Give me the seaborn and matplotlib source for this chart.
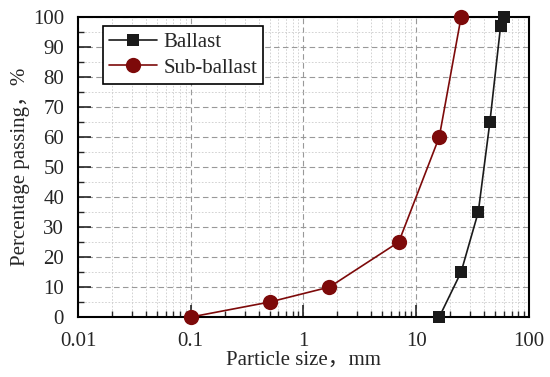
import pandas as pd
import seaborn as sns
import matplotlib.pyplot as plt
from matplotlib.ticker import LogLocator, MultipleLocator, FixedLocator, FixedFormatter

# grading curves
ballast_size = [16, 25, 35.5, 45, 56, 60]
ballast_pass = [0, 15, 35, 65, 97, 100]
sub_size = [0.1, 0.5, 1.7, 7, 16, 25]
sub_pass = [0, 5, 10, 25, 60, 100]
x_ticks = [0.01, 0.1, 1, 10, 100]
x_tick_labels = ['0.01', '0.1', '1', '10', '100']

df = pd.concat([
    pd.DataFrame({'size': ballast_size, 'passing': ballast_pass, 'Material': 'Ballast'}),
    pd.DataFrame({'size': sub_size, 'passing': sub_pass, 'Material': 'Sub-ballast'}),
])

sns.set_style('white')
plt.rcParams['font.family'] = ['Liberation Serif', 'Noto Sans CJK SC']

fig = plt.figure(figsize=(5.5, 3.77), dpi=100)
ax = fig.add_axes([0.1418, 0.159, 0.82, 0.796])

sns.lineplot(data=df, x='size', y='passing', hue='Material', style='Material',
             palette={'Ballast': '#1a1a1a', 'Sub-ballast': '#7d0a0a'},
             markers={'Ballast': 's', 'Sub-ballast': 'o'},
             dashes=False, sort=False, linewidth=1.2, markeredgewidth=0,
             ax=ax, zorder=5, clip_on=False)
for line in ax.get_lines():
    if line.get_marker() == 's':
        line.set_markersize(9)
    else:
        line.set_markersize(11)

ax.set_xscale('log')
ax.set_xlim(0.01, 100)
ax.set_ylim(0, 100)
ax.xaxis.set_major_locator(FixedLocator(x_ticks))
ax.xaxis.set_major_formatter(FixedFormatter(x_tick_labels))
ax.xaxis.set_minor_locator(LogLocator(base=10, subs=range(2, 10)))
ax.yaxis.set_major_locator(MultipleLocator(10))
ax.yaxis.set_minor_locator(MultipleLocator(5))

ax.grid(True, which='major', linestyle=(0, (5, 3)), color='#999999', linewidth=0.8)
ax.grid(True, which='minor', linestyle=(0, (2, 2)), color='#cccccc', linewidth=0.6)
ax.set_axisbelow(True)

for s in ax.spines.values():
    s.set_color('black')
    s.set_linewidth(1.5)

ax.tick_params(axis='both', which='major', direction='in', length=9, width=1.2, labelsize=15)
ax.tick_params(axis='both', which='minor', direction='in', length=4.5, width=1.0)
ax.tick_params(axis='x', which='major', pad=11)
ax.tick_params(axis='y', which='major', pad=10)
ax.tick_params(bottom=True, left=True, which='both')

ax.set_xlabel('Particle size，mm', fontsize=15, labelpad=0)
ax.set_ylabel('Percentage passing，%', fontsize=15, labelpad=2)

leg = ax.legend(loc='upper left', bbox_to_anchor=(0.055, 0.97), borderaxespad=0, fontsize=15,
                frameon=True, fancybox=False, edgecolor='black',
                handlelength=2.3, borderpad=0.3, labelspacing=0.3, handletextpad=0.3)
leg.get_frame().set_linewidth(1.2)
leg.get_frame().set_alpha(1)

fig.savefig('out.png', dpi=100)
